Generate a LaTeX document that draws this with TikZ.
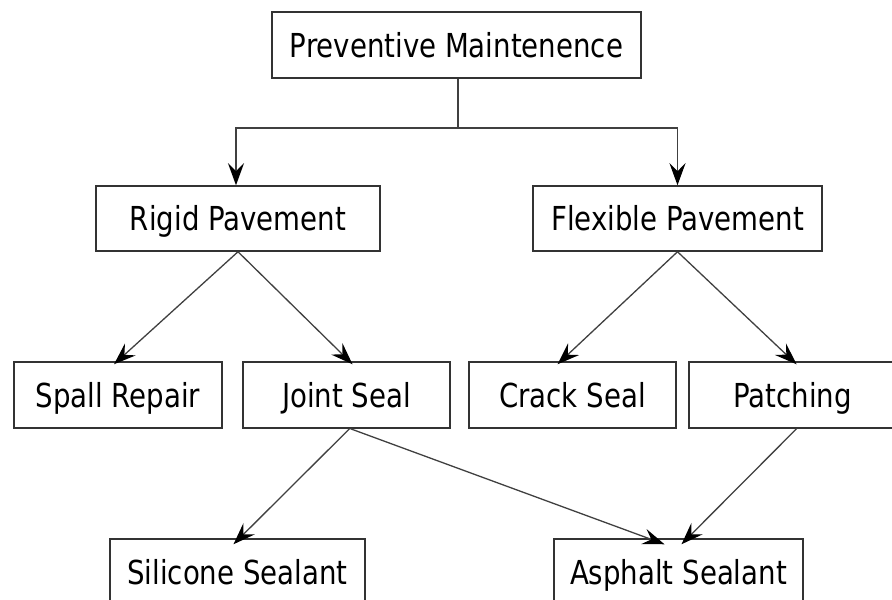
\documentclass[tikz,border=0pt]{standalone}
\usepackage{fontspec}
\setmainfont{DejaVu Sans Condensed}[FakeStretch=0.93]
\usetikzlibrary{arrows.meta}
\begin{document}
\begin{tikzpicture}[x=1pt,y=-1pt,
  box/.style={draw=black!80, line width=1.5pt, inner sep=0pt, minimum height=66pt,
    text height=24pt, text depth=0pt, font=\fontsize{33}{36}\selectfont},
  con/.style={draw=black!75, line width=1.3pt},
  arr/.style={con, -{Stealth[length=22pt,width=16pt,inset=8pt,fill=black,color=black]}}]
\useasboundingbox (0,0) rectangle (892,600);
\clip (0,0) rectangle (892,600);
\node[box, minimum width=369pt] (pm) at (456.5,45) {Preventive Maintenence};
\node[box, minimum width=284pt, minimum height=65pt] (rigid) at (238,218.5) {Rigid Pavement};
\node[box, minimum width=289pt, minimum height=65pt] (flex) at (677.5,218.5) {Flexible Pavement};
\node[box, minimum width=208pt] (spall) at (118,395) {Spall Repair};
\node[box, minimum width=207pt] (joint) at (346.5,395) {Joint Seal};
\node[box, minimum width=207pt] (crack) at (572.5,395) {Crack Seal};
\node[box, minimum width=207pt] (patch) at (792.5,395) {Patching};
\node[box, minimum width=255pt] (sil) at (237.5,572) {Silicone Sealant};
\node[box, minimum width=249pt] (asph) at (678.5,572) {Asphalt Sealant};
\coordinate (j) at (458,128);
\draw[con] (pm.south -| j) -- (j);
\draw[arr] (j) -| ([xshift=-2pt]rigid.north);
\draw[arr] (j) -| (flex.north);
\draw[arr] (rigid.south) -- ([xshift=-4pt,yshift=-3pt]spall.north);
\draw[arr] (rigid.south) -- ([xshift=6pt,yshift=-3pt]joint.north);
\draw[arr] (flex.south) -- ([xshift=-15pt,yshift=-3pt]crack.north);
\draw[arr] (flex.south) -- ([xshift=4pt,yshift=-3pt]patch.north);
\draw[arr] ([xshift=3pt]joint.south) -- ([xshift=-4pt,yshift=-6pt]sil.north);
\draw[arr] ([xshift=4pt]joint.south) -- ([xshift=-14pt,yshift=-6pt]asph.north);
\draw[arr] ([xshift=4pt]patch.south) -- ([xshift=3pt,yshift=-6pt]asph.north);
\end{tikzpicture}
\end{document}
